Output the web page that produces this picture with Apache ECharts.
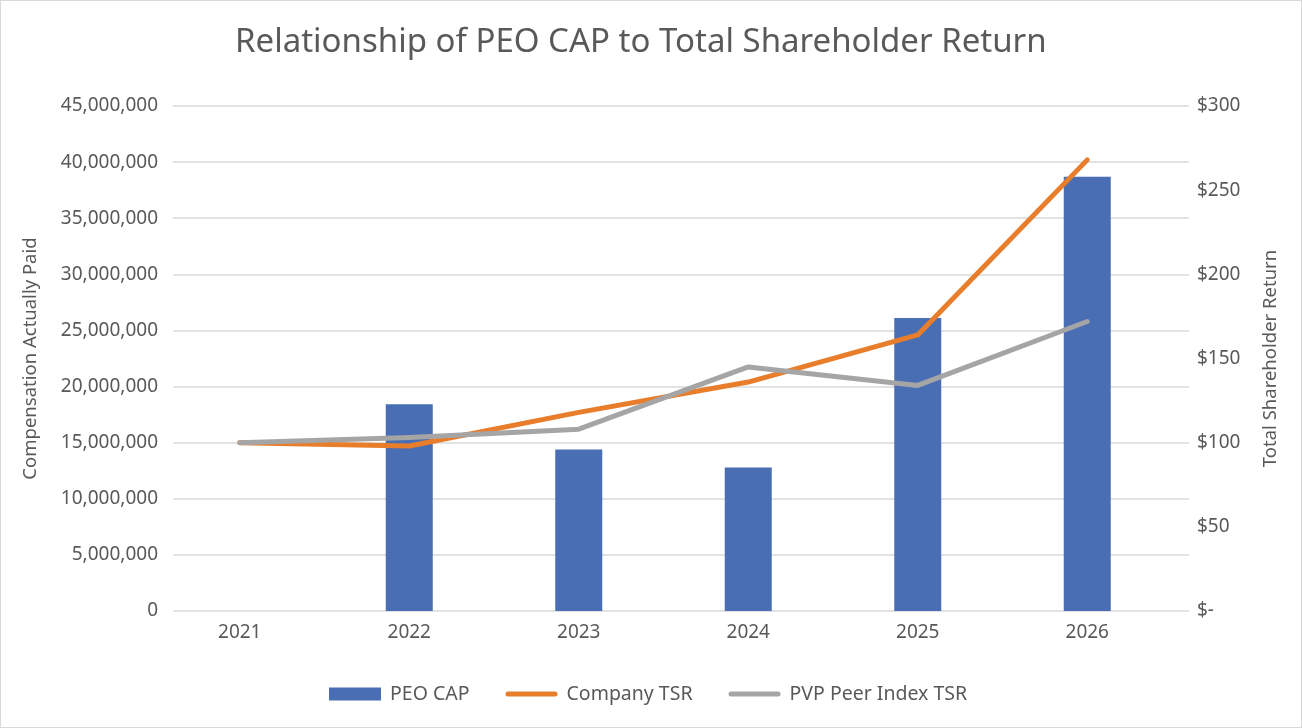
<!DOCTYPE html>
<html>
<head>
<meta charset="utf-8">
<script src="https://cdn.jsdelivr.net/npm/echarts@6/dist/echarts.min.js"></script>
<style>
html,body{margin:0;padding:0;background:#fff;}
#c{width:1300px;height:726px;border:1px solid #d9d9d9;}
</style>
</head>
<body>
<div id="c"></div>
<script>
const years = ['2021','2022','2023','2024','2025','2026'];
const peoCap = [null, 18420000, 14390000, 12780000, 26100000, 38700000];
const companyTSR = [100, 98, 118, 136, 164, 268];
const peerTSR = [100, 103, 108, 145, 134, 172];
const leftTicks = {min:0, max:45000000, interval:5000000};
const rightTicks = {min:0, max:300, interval:50};

const FONT = '"Noto Sans", "Open Sans", sans-serif';
const TXT = '#595959';
const LINE_ICON = 'path://M2.5,0 H49.5 A2.5,2.5 0 0 1 49.5,5 H2.5 A2.5,2.5 0 0 1 2.5,0 Z';
const chart = echarts.init(document.getElementById('c'));
chart.setOption({
  animation:false,
  textStyle:{fontFamily:FONT},
  title:{
    text:'Relationship of PEO CAP to Total Shareholder Return',
    left:234, top:25, padding:0,
    textStyle:{fontFamily:FONT, fontSize:33, fontWeight:'normal', color:TXT}
  },
  legend:{
    bottom:18, left:323,
    itemWidth:52, itemHeight:13, itemGap:36,
    textStyle:{fontFamily:FONT, fontSize:19.5, color:TXT, padding:[0,0,0,4]},
    data:[
      {name:'PEO CAP', icon:'rect'},
      {name:'Company TSR', icon:LINE_ICON},
      {name:'PVP Peer Index TSR', icon:LINE_ICON}
    ]
  },
  grid:[
    {left:172, right:112, top:105, bottom:116},
    {left:154, right:129, top:105, bottom:116}
  ],
  xAxis:[
    {gridIndex:0, type:'category', data:years, show:false},
    {gridIndex:1, type:'category', data:years,
     axisLine:{show:false}, axisTick:{show:false},
     axisLabel:{margin:12, fontSize:19, color:TXT, fontFamily:FONT}}
  ],
  yAxis:[
    {gridIndex:0, type:'value', min:leftTicks.min, max:leftTicks.max, interval:leftTicks.interval,
     name:'Compensation Actually Paid', nameLocation:'middle', nameGap:133, nameRotate:90,
     nameTextStyle:{fontSize:18.5, color:TXT, fontFamily:FONT},
     axisLine:{show:false}, axisTick:{show:false},
     axisLabel:{margin:15, fontSize:19, color:TXT, fontFamily:FONT,
       formatter:v=>v.toLocaleString('en-US')},
     splitLine:{lineStyle:{color:'#d9d9d9', width:1.5}}},
    {gridIndex:0, type:'value', position:'right', min:rightTicks.min, max:rightTicks.max, interval:rightTicks.interval,
     name:'Total Shareholder Return', nameLocation:'middle', nameGap:72, nameRotate:90,
     nameTextStyle:{fontSize:18.5, color:TXT, fontFamily:FONT},
     axisLine:{show:false}, axisTick:{show:false},
     axisLabel:{margin:8, fontSize:19, color:TXT, fontFamily:FONT,
       formatter:v=>v===0?'$-':'$'+v},
     splitLine:{show:false}},
    {gridIndex:1, type:'value', min:leftTicks.min, max:leftTicks.max, show:false, splitLine:{show:false}},
    {gridIndex:1, type:'value', min:rightTicks.min, max:rightTicks.max, show:false, splitLine:{show:false}}
  ],
  series:[
    {name:'PEO CAP', type:'bar', xAxisIndex:1, yAxisIndex:2, data:peoCap, barWidth:47,
     itemStyle:{color:'#4a6eb4'}},
    {name:'Company TSR', type:'line', xAxisIndex:1, yAxisIndex:3, data:companyTSR,
     symbol:'none', lineStyle:{color:'#e87d2b', width:5, cap:'round', join:'round'}, itemStyle:{color:'#e87d2b'}},
    {name:'PVP Peer Index TSR', type:'line', xAxisIndex:1, yAxisIndex:3, data:peerTSR,
     symbol:'none', lineStyle:{color:'#a5a5a5', width:5, cap:'round', join:'round'}, itemStyle:{color:'#a5a5a5'}}
  ]
});
</script>
</body>
</html>
